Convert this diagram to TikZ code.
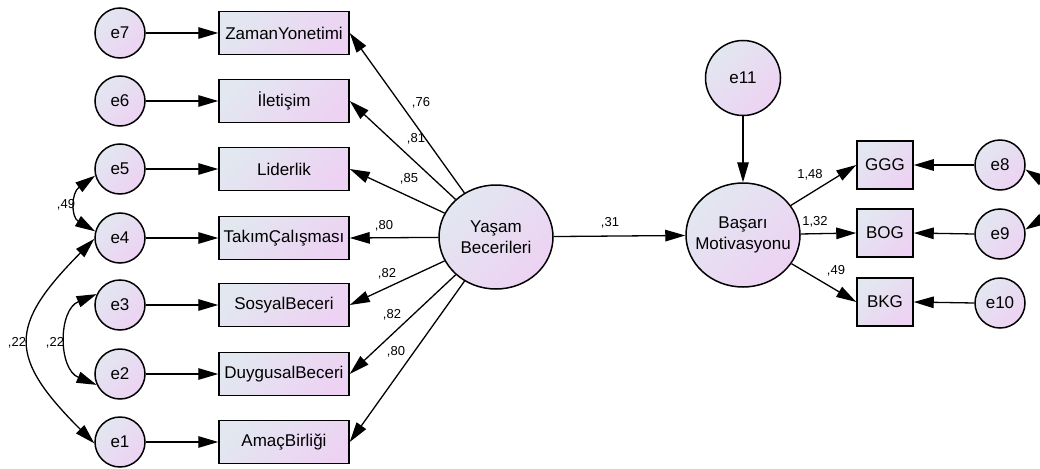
\documentclass[tikz,border=0pt]{standalone}
\usepackage{fontspec}
\setmainfont{Liberation Sans}
\usetikzlibrary{shapes.geometric,arrows.meta}
\definecolor{cA}{RGB}{226,231,240}
\definecolor{cB}{RGB}{237,210,243}
\newcommand{\zb}[1]{\makebox[0pt]{#1}}
\begin{document}
\begin{tikzpicture}[x=1pt,y=-1pt,
  fillg/.style={draw=black, line width=1.5pt, top color=cA, bottom color=cB, shading angle=45},
  err/.style={fillg, circle, minimum size=50pt, inner sep=0pt, font=\fontsize{17}{20}\selectfont},
  errbig/.style={err, minimum size=75pt},
  obs/.style={fillg, rectangle, minimum width=130pt, minimum height=43pt, inner sep=0pt, font=\fontsize{17}{20}\selectfont},
  obsr/.style={obs, minimum width=56pt, minimum height=48pt},
  lat/.style={fillg, ellipse, minimum width=114pt, minimum height=104pt, inner sep=0pt, align=center, font=\fontsize{17}{21}\selectfont},
  lab/.style={font=\fontsize{13}{15}\selectfont, inner sep=0pt},
  arr/.style={-{Triangle[length=20pt,width=11.5pt]}, line width=1.3pt},
  cov/.style={{Triangle[length=20pt,width=11.5pt]}-{Triangle[length=20pt,width=11.5pt]}, line width=1.3pt}
]
\useasboundingbox (0,0) rectangle (1040,468);
\fill[white] (0,0) rectangle (1040,468);
\clip (0,0) rectangle (1040,468);

% left error circles
\node[err] (e7) at (120,33) {e7};
\node[err] (e6) at (120,101) {e6};
\node[err] (e5) at (120,169) {e5};
\node[err] (e4) at (120,238) {e4};
\node[err] (e3) at (120,305) {e3};
\node[err] (e2) at (120,374) {e2};
\node[err] (e1) at (120,442) {e1};

% left observed boxes
\node[obs] (zy) at (284,33) {ZamanYonetimi};
\node[obs] (il) at (284,101) {İletişim};
\node[obs] (li) at (284,169) {Liderlik};
\node[obs] (tc) at (284,238) {TakımÇalışması};
\node[obs] (sb) at (284,305) {SosyalBeceri};
\node[obs] (db) at (284,374) {DuygusalBeceri};
\node[obs] (ab) at (284,442) {AmaçBirliği};

% latent variables
\node[lat] (yb) at (496,237) {\zb{Yaşam}\\\zb{Becerileri}};
\node[lat] (bm) at (743,235) {\zb{Başarı}\\\zb{Motivasyonu}};
\node[errbig] (e11) at (743,78) {e11};

% right observed boxes
\node[obsr] (ggg) at (885,165) {GGG};
\node[obsr] (bog) at (885,233) {BOG};
\node[obsr] (bkg) at (885,302) {BKG};
\node[err] (e8) at (1000,165) {e8};
\node[err] (e9) at (1000,234) {e9};
\node[err] (e10) at (1000,303) {e10};

% error -> indicator
\foreach \e/\b in {e7/zy,e6/il,e5/li,e4/tc,e3/sb,e2/db,e1/ab}
  \draw[arr] (\e.east) -- (\b.west);
\foreach \e/\b in {e8/ggg,e9/bog,e10/bkg}
  \draw[arr] (\e.west) -- (\b.east);

% loadings
\foreach \b in {zy,il,li,tc,sb,db,ab}
  \draw[arr] (yb) -- (\b.east);
\draw[arr] (yb) -- (bm);
\draw[arr] (e11) -- (bm);
\foreach \b in {ggg,bog,bkg}
  \draw[arr] (bm) -- (\b.west);

% covariances
\draw[cov] (e5.195) .. controls (71,193) and (71,217) .. (e4.165);
\draw[cov] (e4.182) .. controls (8,326) and (8,357) .. (e1.183);
\draw[cov] (e3.155) .. controls (58,310) and (58,369) .. (e2.205);
\draw[cov] (e8.-10) .. controls (1065,195) and (1065,205) .. (e9.10);

% labels
\node[lab] (l1) at (421,103) {,76};
\node[lab] (l2) at (416,139) {,81};
\node[lab] (l3) at (409,179) {,85};
\node[lab] (l4) at (384,226) {,80};
\node[lab] (l5) at (387,274) {,82};
\node[lab] (l6) at (392,315) {,82};
\node[lab] (l7) at (396,352) {,80};
\node[lab] (l8) at (610,223) {,31};
\node[lab] (l9) at (810,175) {1,48};
\node[lab] (l10) at (815,222) {1,32};
\node[lab] (l11) at (836,271) {,49};
\node[lab] (l12) at (66,205) {,49};
\node[lab] (l13) at (17,343) {,22};
\node[lab] (l14) at (55,343) {,22};
\end{tikzpicture}
\end{document}
